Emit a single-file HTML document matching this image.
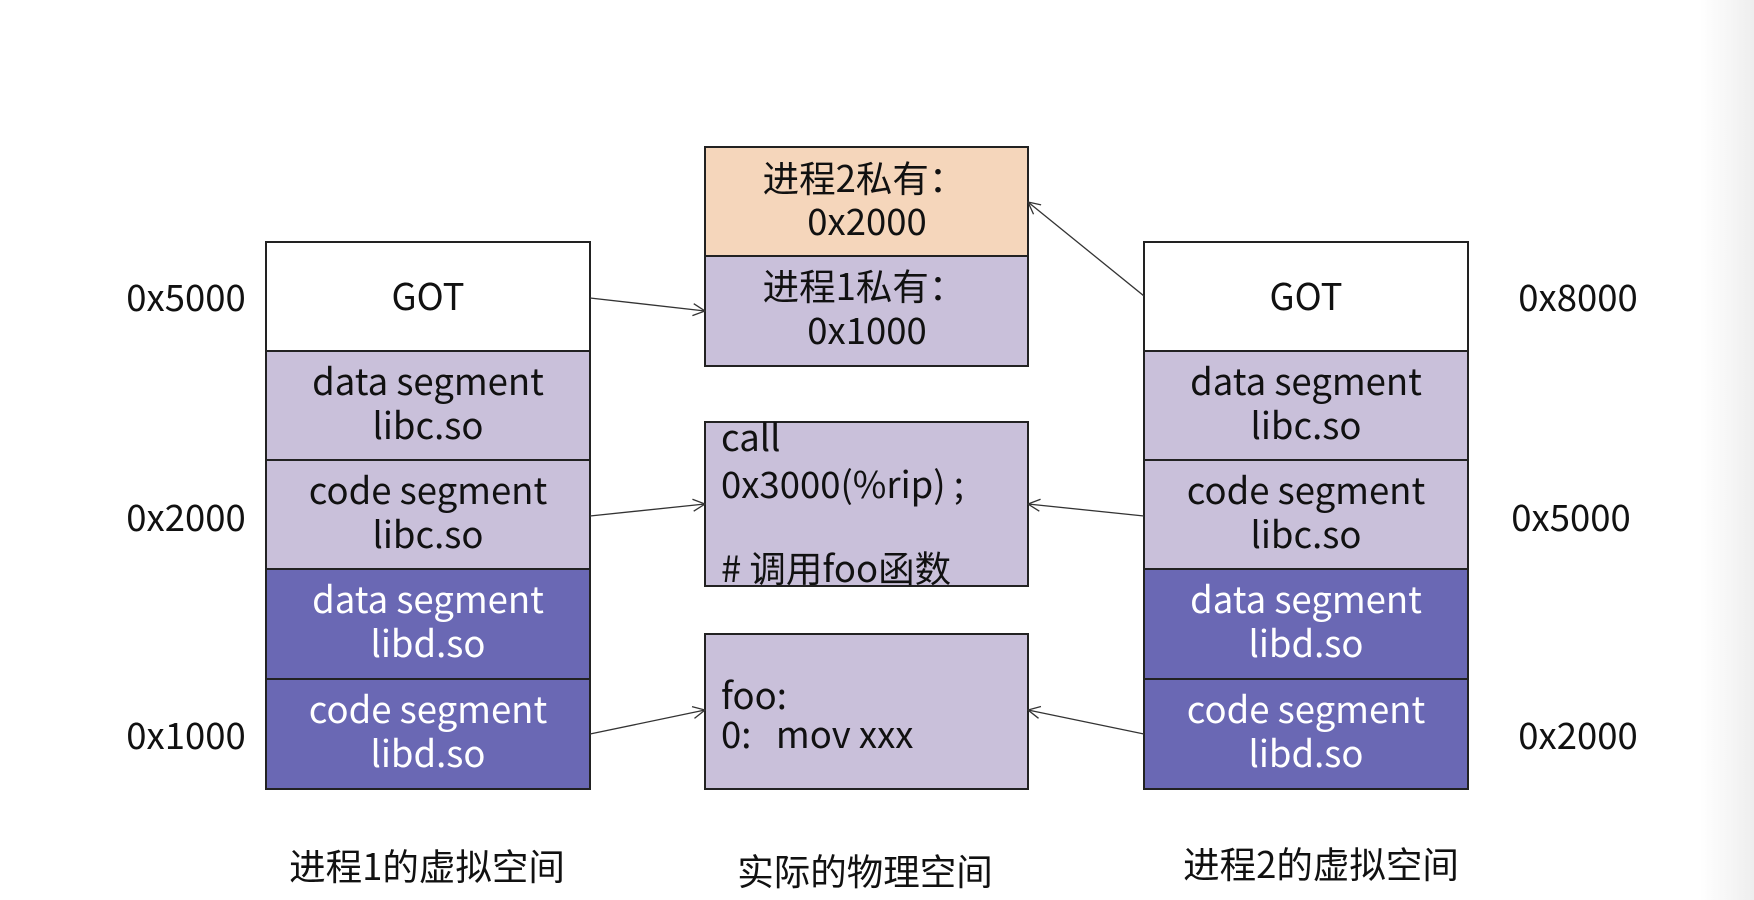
<!DOCTYPE html>
<html><head><meta charset="utf-8"><style>
html,body{margin:0;padding:0;background:#fff}
svg{display:block}
text{font-family:"Noto Sans CJK SC","Liberation Sans",sans-serif;font-size:36.5px;fill:#111}
.w{fill:#fff}
</style></head><body>
<svg width="1754" height="900" viewBox="0 0 1754 900">
<defs>
<linearGradient id="g" x1="0" x2="1"><stop offset="0" stop-color="#fff"/><stop offset="1" stop-color="#eeeeee"/></linearGradient>
<marker id="a" markerWidth="14" markerHeight="14" refX="13" refY="7" orient="auto" markerUnits="userSpaceOnUse"><path d="M1,1 L13,7 L1,13" fill="none" stroke="#333" stroke-width="1.3"/></marker>
</defs>
<rect x="1700" y="0" width="54" height="900" fill="url(#g)"/>
<g stroke="#222" stroke-width="2">
<rect x="266" y="242" width="324" height="109" fill="#fff"/>
<rect x="266" y="351" width="324" height="109" fill="#c9c0da"/>
<rect x="266" y="460" width="324" height="109" fill="#c9c0da"/>
<rect x="266" y="569" width="324" height="110" fill="#6a68b4"/>
<rect x="266" y="679" width="324" height="110" fill="#6a68b4"/>
<rect x="1144" y="242" width="324" height="109" fill="#fff"/>
<rect x="1144" y="351" width="324" height="109" fill="#c9c0da"/>
<rect x="1144" y="460" width="324" height="109" fill="#c9c0da"/>
<rect x="1144" y="569" width="324" height="110" fill="#6a68b4"/>
<rect x="1144" y="679" width="324" height="110" fill="#6a68b4"/>
<rect x="705" y="147" width="323" height="109" fill="#f5d6bb"/>
<rect x="705" y="256" width="323" height="110" fill="#c9c0da"/>
<rect x="705" y="422" width="323" height="164" fill="#c9c0da"/>
<rect x="705" y="634" width="323" height="155" fill="#c9c0da"/>
</g>
<g stroke="#333" stroke-width="1.3" marker-end="url(#a)">
<line x1="590" y1="298" x2="705" y2="311"/>
<line x1="590" y1="516" x2="705" y2="504"/>
<line x1="590" y1="734" x2="705" y2="710"/>
<line x1="1144" y1="296" x2="1028" y2="202"/>
<line x1="1144" y1="516" x2="1028" y2="504"/>
<line x1="1144" y1="734" x2="1028" y2="710"/>
</g>
<g text-anchor="middle">
<text x="428" y="310">GOT</text>
<text x="428" y="395">data segment</text>
<text x="428" y="439">libc.so</text>
<text x="428" y="504">code segment</text>
<text x="428" y="548">libc.so</text>
<text x="428" y="613" class="w">data segment</text>
<text x="428" y="657" class="w">libd.so</text>
<text x="428" y="723" class="w">code segment</text>
<text x="428" y="767" class="w">libd.so</text>
<text x="1306" y="310">GOT</text>
<text x="1306" y="395">data segment</text>
<text x="1306" y="439">libc.so</text>
<text x="1306" y="504">code segment</text>
<text x="1306" y="548">libc.so</text>
<text x="1306" y="613" class="w">data segment</text>
<text x="1306" y="657" class="w">libd.so</text>
<text x="1306" y="723" class="w">code segment</text>
<text x="1306" y="767" class="w">libd.so</text>
<text x="864" y="192">进程2私有：</text>
<text x="867" y="235">0x2000</text>
<text x="864" y="300">进程1私有：</text>
<text x="867" y="344">0x1000</text>
<text x="186" y="311">0x5000</text>
<text x="186" y="531">0x2000</text>
<text x="186" y="749">0x1000</text>
<text x="1578" y="311">0x8000</text>
<text x="1571" y="531">0x5000</text>
<text x="1578" y="749">0x2000</text>
<text x="427" y="880">进程1的虚拟空间</text>
<text x="865" y="885">实际的物理空间</text>
<text x="1321" y="878">进程2的虚拟空间</text>
</g>
<text x="721" y="451">call</text>
<text x="721" y="498">0x3000(%rip) ;</text>
<text x="721" y="582"># 调用foo函数</text>
<text x="721" y="709">foo:</text>
<text x="721" y="748">0:&#160;&#160;&#160;mov xxx</text>
</svg>
</body></html>
